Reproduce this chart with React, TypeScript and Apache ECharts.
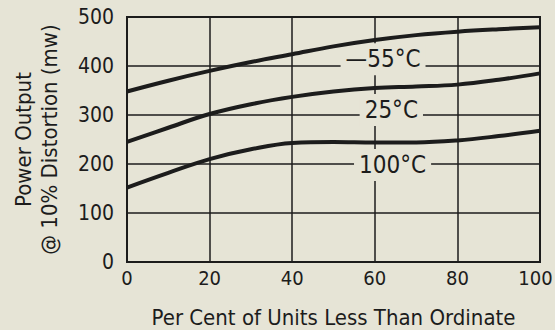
import React, { useEffect, useRef } from "react";
import * as echarts from "echarts";

const xValues = [0, 10, 20, 30, 40, 50, 60, 70, 80, 90, 100];
const series55 = [348, 370, 390, 408, 424, 440, 453, 463, 470, 475, 479];
const series25 = [245, 274, 302, 322, 337, 348, 355, 358, 362, 372, 385];
const series100 = [152, 182, 210, 230, 243, 245, 244, 244, 248, 257, 268];
const curveLabels = ["—55°C", "25°C", "100°C"];
const labelX = [62, 64, 64.3];
const labelY = [414, 310, 198];

const BG = "#e6e4d6";
const INK = "#1c1c1c";
const FONT = "'Liberation Sans Narrow', 'DejaVu Sans Condensed', 'Roboto Condensed', sans-serif";

export default function App() {
  const ref = useRef<HTMLDivElement>(null);
  useEffect(() => {
    if (!ref.current) return;
    const chart = echarts.init(ref.current, undefined, { renderer: "svg" });
    const mk = (vals: number[]) => xValues.map((x, i) => [x, vals[i]]);
    const lineStyle = { color: INK, width: 4 };
    chart.setOption({
      animation: false,
      backgroundColor: BG,
      grid: {
        left: 127,
        right: 15,
        top: 17,
        bottom: 68,
        outerBoundsMode: "none",
        containLabel: false,
        show: true,
        borderColor: INK,
        borderWidth: 2,
        backgroundColor: "transparent",
      },
      xAxis: {
        type: "value",
        min: 0,
        max: 100,
        interval: 20,
        name: "Per Cent of Units Less Than Ordinate",
        nameLocation: "middle",
        nameGap: 44,
        nameTextStyle: { color: INK, fontFamily: FONT, fontSize: 22 },
        axisLine: { show: true, lineStyle: { color: INK, width: 2 } },
        axisTick: { show: false },
        axisLabel: {
          color: INK,
          fontFamily: FONT,
          fontSize: 20,
          margin: 6,
          formatter: (v: number) => (v === 100 ? "{m|100}" : String(v)),
          rich: {
            m: { color: INK, fontFamily: FONT, fontSize: 20, padding: [0, 9, 0, 0] },
          },
        },
        splitLine: { show: true, lineStyle: { color: INK, width: 1.5 } },
      },
      yAxis: {
        type: "value",
        min: 0,
        max: 500,
        interval: 100,
        name: "Power Output\n@ 10% Distortion (mw)",
        nameLocation: "middle",
        nameRotate: 90,
        nameGap: 65,
        nameTextStyle: { color: INK, fontFamily: FONT, fontSize: 22, lineHeight: 26 },
        axisLine: { show: true, lineStyle: { color: INK, width: 2 } },
        axisTick: { show: false },
        axisLabel: { color: INK, fontFamily: FONT, fontSize: 21, margin: 13 },
        splitLine: { show: true, lineStyle: { color: INK, width: 1.5 } },
      },
      series: [
        { type: "line", data: mk(series55), smooth: 0.4, showSymbol: false, lineStyle, z: 3 },
        { type: "line", data: mk(series25), smooth: 0.4, showSymbol: false, lineStyle, z: 3 },
        { type: "line", data: mk(series100), smooth: 0.4, showSymbol: false, lineStyle, z: 3 },
        {
          type: "scatter",
          symbolSize: 0,
          z: 2,
          itemStyle: { opacity: 1 },
          data: curveLabels.map((t, i) => [labelX[i], labelY[i], t]),
          label: {
            show: true,
            position: "inside",
            formatter: (p: any) => p.value[2],
            color: INK,
            fontFamily: FONT,
            fontSize: 24,
            backgroundColor: BG,
            padding: [4, 5],
          },
        },
      ],
    });
    return () => chart.dispose();
  }, []);
  return (
    <div
      ref={ref}
      style={{ position: "fixed", left: 0, top: 0, width: 555, height: 330 }}
    />
  );
}
